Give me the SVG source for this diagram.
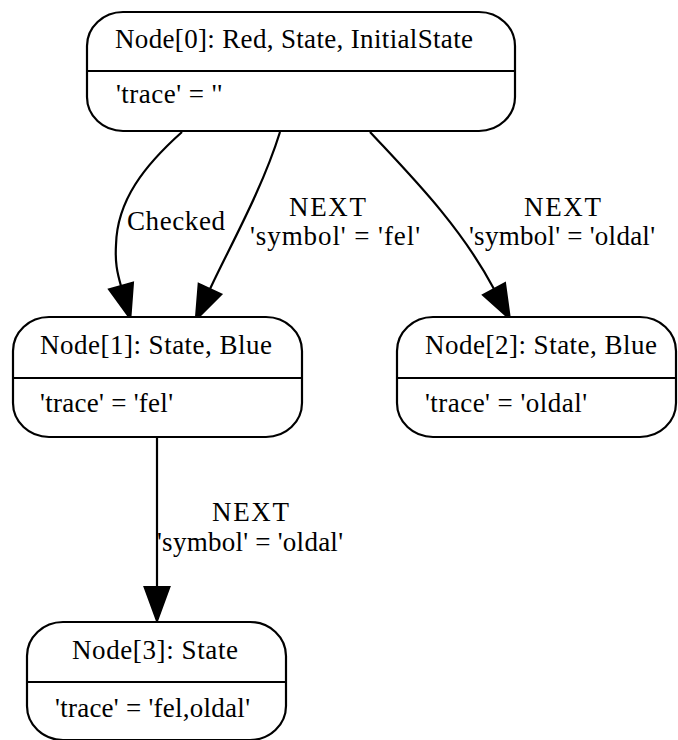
<svg xmlns="http://www.w3.org/2000/svg" width="678" height="740" viewBox="0 0 678 740">
  <defs>
    <style>
      .box { fill: #ffffff; stroke: #000000; stroke-width: 2.2; }
      .sep { stroke: #000000; stroke-width: 2.2; }
      .edge { fill: none; stroke: #000000; stroke-width: 2.2; }
      text { font-family: "Liberation Serif", "Times New Roman", serif; font-size: 27px; fill: #000000; }
    </style>
    <marker id="arrow" markerUnits="userSpaceOnUse" markerWidth="40" markerHeight="30" refX="0" refY="0" viewBox="-2 -15 40 30" orient="auto" overflow="visible">
      <path d="M0,-12.5 L34,0 L0,12.5 Z" fill="#000000" stroke="#000000" stroke-width="2"/>
    </marker>
  </defs>
  <rect x="0" y="0" width="678" height="740" fill="#ffffff"/>

  <!-- transitions -->
  <g id="edges">
    <g id="edge-0-1-checked">
      <path class="edge" d="M182,132 C145,165 117,200 116,245 C115,262 117,272 121,286" marker-end="url(#arrow)"/>
      <text x="127" y="230" textLength="98" lengthAdjust="spacing">Checked</text>
    </g>
    <g id="edge-0-1-fel">
      <path class="edge" d="M280,132 C262,190 228,250 210,289" marker-end="url(#arrow)"/>
      <text x="289" y="216" textLength="77" lengthAdjust="spacing">NEXT</text>
      <text x="250" y="245" textLength="170" lengthAdjust="spacing">'symbol' = 'fel'</text>
    </g>
    <g id="edge-0-2-oldal">
      <path class="edge" d="M370,132 C410,175 460,225 494,289" marker-end="url(#arrow)"/>
      <text x="524" y="216" textLength="77" lengthAdjust="spacing">NEXT</text>
      <text x="469" y="245" textLength="186" lengthAdjust="spacing">'symbol' = 'oldal'</text>
    </g>
    <g id="edge-1-3-oldal">
      <path class="edge" d="M157,437 L157,587" marker-end="url(#arrow)"/>
      <text x="212" y="521" textLength="77" lengthAdjust="spacing">NEXT</text>
      <text x="157" y="551" textLength="186" lengthAdjust="spacing">'symbol' = 'oldal'</text>
    </g>
  </g>

  <!-- states -->
  <g id="node0">
    <rect class="box" x="87" y="12" width="428" height="119" rx="36" ry="34"/>
    <line class="sep" x1="87" y1="71" x2="515" y2="71"/>
    <text x="115" y="48" textLength="358" lengthAdjust="spacing">Node[0]: Red, State, InitialState</text>
    <text x="116" y="103" textLength="106" lengthAdjust="spacing">'trace' = ''</text>
  </g>
  <g id="node1">
    <rect class="box" x="13" y="317" width="289" height="120" rx="36" ry="34"/>
    <line class="sep" x1="13" y1="378" x2="302" y2="378"/>
    <text x="40" y="354" textLength="232" lengthAdjust="spacing">Node[1]: State, Blue</text>
    <text x="40" y="412" textLength="133" lengthAdjust="spacing">'trace' = 'fel'</text>
  </g>
  <g id="node2">
    <rect class="box" x="397" y="317" width="279" height="120" rx="36" ry="34"/>
    <line class="sep" x1="397" y1="378" x2="676" y2="378"/>
    <text x="425" y="354" textLength="232" lengthAdjust="spacing">Node[2]: State, Blue</text>
    <text x="425" y="412" textLength="162" lengthAdjust="spacing">'trace' = 'oldal'</text>
  </g>
  <g id="node3">
    <rect class="box" x="27" y="622" width="259" height="118" rx="36" ry="34"/>
    <line class="sep" x1="27" y1="682" x2="286" y2="682"/>
    <text x="72" y="659" textLength="166" lengthAdjust="spacing">Node[3]: State</text>
    <text x="55" y="717" textLength="195" lengthAdjust="spacing">'trace' = 'fel,oldal'</text>
  </g>
</svg>
